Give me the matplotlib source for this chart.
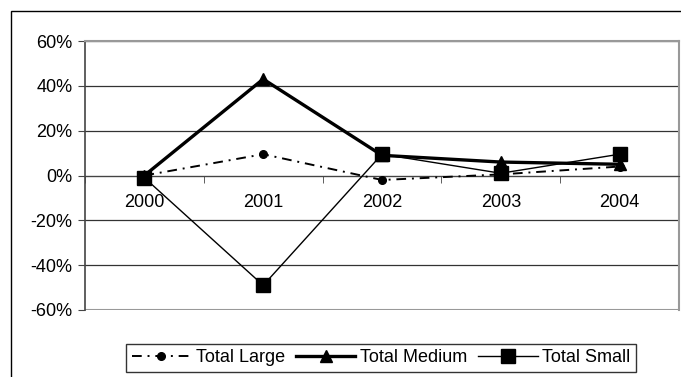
import numpy as np
import matplotlib
matplotlib.use("Agg")
import matplotlib.pyplot as plt
import matplotlib.patches as patches
from matplotlib.ticker import FuncFormatter, FixedLocator

plt.rcParams['font.family'] = ['Liberation Sans', 'DejaVu Sans']

years = ["2000", "2001", "2002", "2003", "2004"]
total_large = [0.0, 0.095, -0.02, 0.005, 0.04]
total_medium = [0.0, 0.43, 0.09, 0.06, 0.05]
total_small = [-0.01, -0.49, 0.095, 0.01, 0.095]
y_ticks = [-0.6, -0.4, -0.2, 0.0, 0.2, 0.4, 0.6]

W, H = 681, 377
fig = plt.figure(figsize=(W / 100, H / 100), dpi=100)
ax = fig.add_axes([85 / W, 1 - 310 / H, (679 - 85) / W, (310 - 41) / H])

x = np.arange(len(years))

ax.plot(x, total_large, color='black', lw=1.4, linestyle=(0, (5, 3, 1, 3)),
        marker='o', markersize=5.5, label='Total Large', zorder=4)
ax.plot(x, total_medium, color='black', lw=2.4, marker='^', markersize=9,
        label='Total Medium', zorder=4)
ax.plot(x, total_small, color='black', lw=1.0, marker='s', markersize=10.5,
        label='Total Small', zorder=4)

ax.set_xlim(-0.5, len(years) - 0.5)
ax.set_ylim(-0.6, 0.6)
ax.set_yticks(y_ticks)
ax.yaxis.set_major_formatter(FuncFormatter(lambda v, p: f"{v * 100:.0f}%"))
ax.grid(axis='y', color='#333333', lw=0.9)
ax.set_axisbelow(True)

# category labels sit under the zero line, ticks at the category boundaries
ax.spines['bottom'].set_position(('data', 0))
ax.spines['bottom'].set_color('#444444')
ax.set_xticks(x)
ax.set_xticklabels(years)
ax.xaxis.set_minor_locator(FixedLocator(np.arange(-0.5, len(years), 1.0)))
ax.tick_params(axis='x', which='major', length=0, pad=13, labelsize=13)
ax.tick_params(axis='x', which='minor', length=5, direction='out', color='#444444')
ax.tick_params(axis='y', length=5, direction='out', color='#444444', labelsize=13, pad=4)

ax.spines['left'].set_color('#444444')
ax.spines['left'].set_linewidth(1.2)
for s in ['top', 'right']:
    ax.spines[s].set_color('#999999')
    ax.spines[s].set_linewidth(1.5)

# plot area bottom edge (the zero spine took the bottom spine)
ax.axhline(-0.6, color='#999999', lw=1.5, zorder=1)

leg = ax.legend(loc='center', bbox_to_anchor=(381 / W, 1 - 358 / H),
                bbox_transform=fig.transFigure, ncol=3, frameon=True,
                fancybox=False, edgecolor='black', fontsize=13,
                handlelength=3.3, handletextpad=0.25, columnspacing=0.6,
                borderpad=0.3, borderaxespad=0)
leg.get_frame().set_linewidth(1.0)

# outer chart border
fig.patches.append(patches.Rectangle((11 / W, -0.02), 1.0, 1 - 11 / H + 0.02,
                                     transform=fig.transFigure, fill=False,
                                     edgecolor='black', lw=1.0))

fig.savefig("out.png", dpi=100)
